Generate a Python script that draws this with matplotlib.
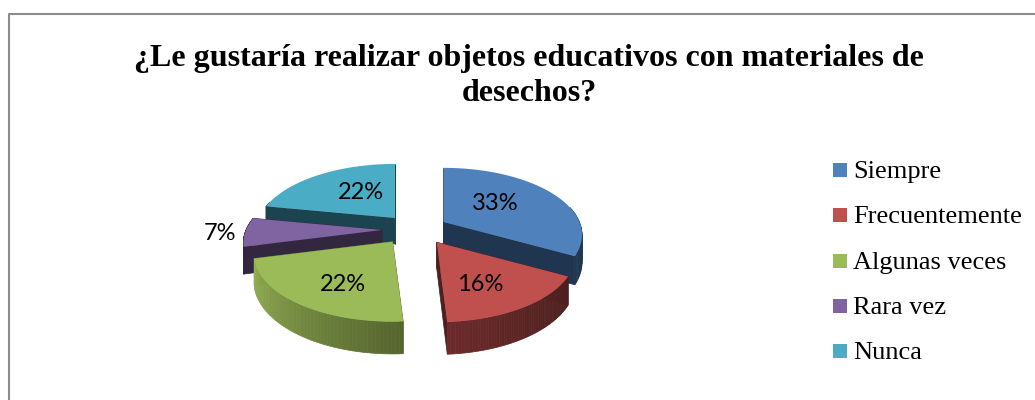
import numpy as np
import matplotlib
matplotlib.use('Agg')
import matplotlib.pyplot as plt
from matplotlib.colors import to_rgb
from matplotlib.patches import Rectangle

# data
categories = ['Siempre', 'Frecuentemente', 'Algunas veces', 'Rara vez', 'Nunca']
values = [33, 16, 22, 7, 22]
title = '¿Le gustaría realizar objetos educativos con materiales de\ndesechos?'

# styles
top_colors = ['#4f81bd', '#c0504d', '#9bbb59', '#8064a2', '#4bacc6']
cut_colors = ['#1f3550', '#4d1f1f', '#5a6b30', '#33263f', '#1c4450']
wall_dark = ['#1f3550', '#4c1f1f', '#55652e', '#33263f', '#1c4450']
wall_light = ['#20374f', '#6b2a2a', '#93b053', '#33263f', '#1c4450']
label_r = [0.46, 0.54, 0.57, 1.18, 0.42]
shift_x = [0, 4, -3, 0, 1]

# pie geometry, in pixels
CX, CY = 415, 229.5
R, K = 136, 64.5
P = 0.194
DEPTH = 26
EXPLODE_X, EXPLODE_Y = 33, 15
LABEL_STRETCH = 1.3


def project(theta, r, ox, oy, ky=K):
    d = 1 + P * r * np.cos(theta)
    return ox + R * r * np.sin(theta) / d, oy - ky * r * np.cos(theta) / d


def depth(theta):
    return DEPTH / (1 + P * np.cos(theta))


def draw_slice(ax, i, a0, a1):
    mid = (a0 + a1) / 2
    ox = CX + EXPLODE_X * np.sin(mid) + shift_x[i]
    oy = CY - EXPLODE_Y * np.cos(mid)
    th = np.linspace(a0, a1, 60)
    xs, ys = project(th, 1, ox, oy)
    ds = depth(th)

    # cut faces
    for j in [0, -1]:
        ax.fill([ox, xs[j], xs[j], ox],
                [oy, ys[j], ys[j] + ds[j], oy + DEPTH],
                color=cut_colors[i], lw=0.5, zorder=i_order[i])

    # outer wall, shaded from one end of the arc to the other
    dark = np.array(to_rgb(wall_dark[i]))
    light = np.array(to_rgb(wall_light[i]))
    for j in range(len(th) - 1):
        if np.cos(th[j]) > 0.25:
            continue
        t = j / (len(th) - 2)
        ax.fill([xs[j], xs[j + 1], xs[j + 1], xs[j]],
                [ys[j], ys[j + 1], ys[j + 1] + ds[j + 1], ys[j] + ds[j]],
                color=dark + (light - dark) * t, lw=0.5, zorder=i_order[i])

    ax.fill(np.r_[ox, xs], np.r_[oy, ys], color=top_colors[i], lw=0,
            zorder=i_order[i] + 0.5)

    lx, ly = project(mid, label_r[i], ox, oy, K * LABEL_STRETCH)
    ax.text(lx, ly, f'{values[i]}%', family='Lato', fontsize=17,
            ha='center', va='center', color='black', zorder=10)


# back slices first so the front ones cover them
i_order = [2, 4, 5, 1, 0]

fig = plt.figure(figsize=(10.35, 4), dpi=100)
ax = fig.add_axes([0, 0, 1, 1])
ax.set_xlim(0, 1035)
ax.set_ylim(400, 0)
ax.axis('off')

# chart frame, cut by the image edges
ax.plot([9, 9, 1035], [400, 14, 14], color='#8c8c8c', lw=1.5)

ax.text(529, 76, title, family='Liberation Serif', fontweight='bold',
        fontsize=23, ha='center', va='center', linespacing=1.3)

edges = np.r_[0, np.cumsum(values)] / sum(values) * 2 * np.pi
for i in range(len(values)):
    draw_slice(ax, i, edges[i], edges[i + 1])

# legend
for i, name in enumerate(categories):
    y = 170 + i * 45.25
    ax.add_patch(Rectangle((833, y - 7), 14, 14, color=top_colors[i], lw=0))
    ax.text(853, y + 8, name, family='Liberation Serif', fontsize=19,
            ha='left', va='baseline', color='black')

fig.savefig('out.png', dpi=100)
